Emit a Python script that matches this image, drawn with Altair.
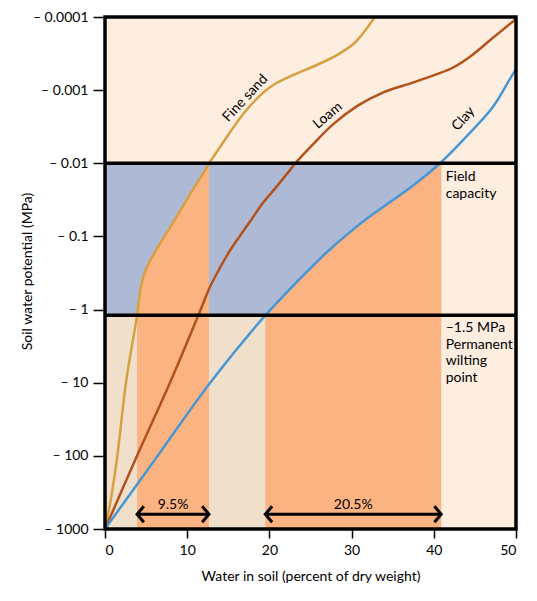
import altair as alt
import pandas as pd

# ---------------- data ----------------
# Water in soil (percent of dry weight) and soil water potential (MPa)
sand_x = [0, 0.7, 1.5, 2.55, 3.9, 4.4, 5.0, 6.05, 7.26, 8.5, 9.7, 10.9, 12.2, 12.65,
          13.73, 15.36, 16.98, 19.01, 20.62, 23.06, 25.89, 28.32, 30.35, 31.56, 32.57, 32.9]
sand_psi = [-1000, -400, -100, -10, -1.2, -0.47, -0.28, -0.166, -0.099, -0.059, -0.035,
            -0.021, -0.0124, -0.01, -0.00665, -0.00356, -0.00201, -0.00114, -0.00083,
            -0.00061, -0.000446, -0.000327, -0.000227, -0.000158, -0.00011, -0.0001]

loam_x = [0, 3.9, 7.9, 11.35, 12.85, 13.9, 15.05, 16.4, 17.8, 19.2, 20.85, 22.5, 23.15,
          25.18, 27.8, 30.71, 33.87, 37.43, 40.28, 42.29, 44.73, 47.16, 49.59, 50]
loam_psi = [-1000, -100, -10, -1.2, -0.47, -0.28, -0.166, -0.099, -0.059, -0.035,
            -0.021, -0.0124, -0.01, -0.00569, -0.00289, -0.00164, -0.00107, -0.00079,
            -0.00061, -0.000494, -0.000327, -0.000194, -0.000116, -0.000106]

clay_x = [0, 6.4, 12.8, 19.5, 22.9, 24.88, 26.95, 29.21, 31.67, 34.51, 37.28, 40.75, 43.92,
          47.16, 49.59, 50]
clay_psi = [-1000, -100, -10, -1.2, -0.47, -0.28, -0.166, -0.099, -0.059, -0.035, -0.021,
            -0.01, -0.00437, -0.00172, -0.00061, -0.00052]

series_names = ["Fine sand", "Loam", "Clay"]
series_colors = ["#d6a040", "#b3521c", "#4897d4"]

field_capacity = -0.01
wilting_line = -1.2          # as drawn in the figure
sand_range = [3.9, 12.65]    # available water, fine sand
clay_range = [19.5, 40.9]    # available water, clay
range_labels = ["9.5%", "20.5%"]
arrow_psi = -630

y_tick_values = [-0.0001, -0.001, -0.01, -0.1, -1, -10, -100, -1000]
x_tick_values = [0, 10, 20, 30, 40, 50]

# label anchors (data coordinates)
curve_label_x = [17.07, 27.1, 43.6]
curve_label_psi = [-0.00129, -0.00223, -0.00248]
curve_label_angle = [313, 320, 312]

FONT = "Lato"
PEACH = "#fdeee0"
TAN = "#f0e0cb"
BLUE = "#adb9d5"
ORANGE = "#fbb382"
CURVE = "catmull-rom"

# ---------------- frames ----------------
def curve(xs, ps, name):
    return pd.DataFrame({"x": xs, "s": [-p for p in ps], "name": name})

curves = pd.concat([curve(sand_x, sand_psi, series_names[0]),
                    curve(loam_x, loam_psi, series_names[1]),
                    curve(clay_x, clay_psi, series_names[2])], ignore_index=True)

fc = -field_capacity
wp = -wilting_line
rects = pd.DataFrame([
    {"x": 0, "x2": clay_range[1], "s": wp, "s2": 1000, "c": TAN},
    {"x": 0, "x2": clay_range[1], "s": fc, "s2": wp, "c": BLUE},
    {"x": sand_range[0], "x2": sand_range[1], "s": wp, "s2": 1000, "c": ORANGE},
    {"x": clay_range[0], "x2": clay_range[1], "s": wp, "s2": 1000, "c": ORANGE},
])

def band(xs, ps, right):
    d = pd.DataFrame({"x": xs, "s": [-p for p in ps]})
    d = d[(d.s >= fc - 1e-12) & (d.s <= wp + 1e-12)].copy()
    d["x2"] = right
    return d.sort_values("s")

band_sand = band(sand_x, sand_psi, sand_range[1])
band_clay = band(clay_x, clay_psi, clay_range[1])

hlines = pd.DataFrame({"s": [fc, wp]})
arrows = pd.DataFrame({"x": [sand_range[0], clay_range[0]],
                       "x2": [sand_range[1], clay_range[1]],
                       "s": [-arrow_psi] * 2,
                       "mid": [(sand_range[0] + sand_range[1]) / 2,
                               (clay_range[0] + clay_range[1]) / 2],
                       "label": range_labels})
frame = pd.DataFrame({"x": [0], "x2": [50], "s": [0.0001], "s2": [1000]})
labels = pd.DataFrame({"x": curve_label_x, "s": [-p for p in curve_label_psi],
                       "name": series_names, "angle": curve_label_angle})

# ---------------- scales / axes ----------------
xscale = alt.Scale(domain=[0, 50], nice=False, zero=False)
yscale = alt.Scale(type="log", domain=[0.0001, 1000], reverse=True, nice=False)

xaxis = alt.Axis(values=x_tick_values, grid=False, domain=False, tickColor="black",
                 tickSize=9, tickWidth=1.5, labelFont=FONT, labelFontSize=14,
                 labelColor="black", labelPadding=5, title="Water in soil (percent of dry weight)",
                 titleFont=FONT, titleFontSize=14, titleFontWeight="normal",
                 titleColor="black", titleBaseline="middle", titleY=47)
yaxis = alt.Axis(values=[-v for v in y_tick_values], grid=False, domain=False,
                 tickColor="black", tickSize=12, tickWidth=1.5, labelFont=FONT,
                 labelFontSize=14, labelColor="black", labelPadding=5,
                 labelExpr="'\u2013 ' + format(datum.value, '')",
                 title="Soil water potential (MPa)", titleFont=FONT, titleFontSize=14,
                 titleFontWeight="normal", titleColor="black", titleBaseline="middle",
                 titleX=-78, titleY=254)

def X(f="x"):
    return alt.X(f"{f}:Q", scale=xscale, axis=xaxis, stack=None)

def Y(f="s"):
    return alt.Y(f"{f}:Q", scale=yscale, axis=yaxis)

base_rects = alt.Chart(rects).mark_rect().encode(
    x=X(), x2="x2:Q", y=Y(), y2="s2:Q", color=alt.Color("c:N", scale=None))

area_sand = alt.Chart(band_sand).mark_area(orient="horizontal", interpolate=CURVE,
                                           color=ORANGE).encode(x=X(), x2="x2:Q", y=Y())
area_clay = alt.Chart(band_clay).mark_area(orient="horizontal", interpolate=CURVE,
                                           color=ORANGE).encode(x=X(), x2="x2:Q", y=Y())

rules = alt.Chart(hlines).mark_rule(color="black", strokeWidth=3.5).encode(y=Y())

lines = alt.Chart(curves).mark_line(interpolate=CURVE, strokeWidth=2.5, clip=True).encode(
    x=X(), y=Y(),
    color=alt.Color("name:N", scale=alt.Scale(domain=series_names, range=series_colors),
                    legend=None),
    order=alt.Order("x:Q"))

shafts = alt.Chart(arrows).mark_rule(color="black", strokeWidth=3).encode(
    x=X(), x2="x2:Q", y=Y())
left_heads = alt.Chart(arrows).mark_point(shape="M0.85,-1L0,0L0.85,1", size=256,
                                          filled=False, color="black", strokeWidth=3,
                                          opacity=1).encode(x=X(), y=Y())
right_heads = alt.Chart(arrows).mark_point(shape="M-0.85,-1L0,0L-0.85,1", size=256,
                                           filled=False, color="black", strokeWidth=3,
                                           opacity=1).encode(x=X("x2"), y=Y())
range_text = alt.Chart(arrows).mark_text(font=FONT, fontSize=14, color="black", dy=-9).encode(
    x=X("mid"), y=Y(), text="label:N")

curve_text = alt.Chart(labels).mark_text(font=FONT, fontSize=14, color="black").encode(
    x=X(), y=Y(), text="name:N", angle=alt.Angle("angle:Q", scale=None))

note_df = pd.DataFrame({"x": [41.45, 41.45], "s": [0.0125, 1.43]})
fc_text = alt.Chart(note_df.iloc[[0]]).mark_text(
    text=["Field", "capacity"], align="left", baseline="top", lineHeight=17,
    font=FONT, fontSize=14, color="black").encode(x=X(), y=Y())
wp_text = alt.Chart(note_df.iloc[[1]]).mark_text(
    text=["\u20131.5 MPa", "Permanent", "wilting", "point"], align="left", baseline="top",
    lineHeight=16.7, font=FONT, fontSize=14, color="black").encode(x=X(), y=Y())

border = alt.Chart(frame).mark_rect(filled=False, stroke="black", strokeWidth=3.5).encode(
    x=X(), x2="x2:Q", y=Y(), y2="s2:Q")

chart = alt.layer(
    base_rects, area_sand, area_clay, lines, rules, shafts, left_heads, right_heads,
    range_text, curve_text, fc_text, wp_text, border
).properties(
    width=411, height=512,
    autosize=alt.AutoSizeParams(type="none"),
    padding={"left": 97, "top": 9, "right": 12, "bottom": 62},
    background="white",
).configure_view(fill=PEACH, stroke=None)

chart.save("out.html", embed_options={"renderer": "svg", "actions": False})
